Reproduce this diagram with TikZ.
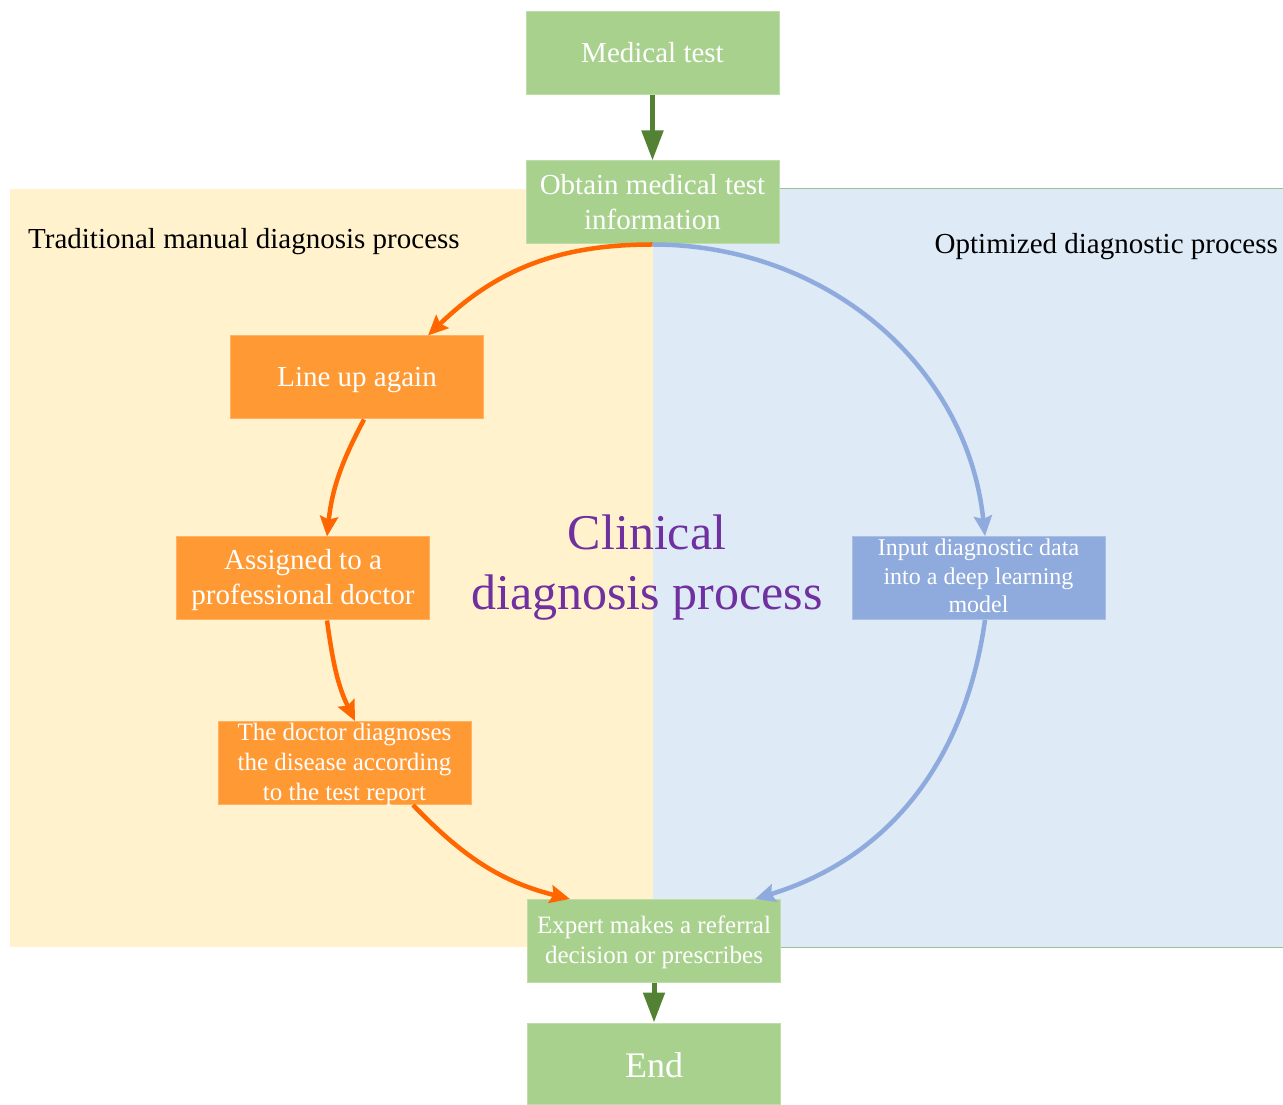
\documentclass[tikz,border=0pt]{standalone}
\usepackage{fontspec}
\setmainfont{Liberation Serif}
\usetikzlibrary{arrows.meta}
\definecolor{boxgreen}{HTML}{A9D18E}
\definecolor{boxorange}{HTML}{FF9933}
\definecolor{boxblue}{HTML}{8FAADC}
\definecolor{bgyellow}{HTML}{FFF2CC}
\definecolor{bgblue}{HTML}{DEEAF6}
\definecolor{arrgreen}{HTML}{548235}
\definecolor{arrorange}{HTML}{FF6600}
\definecolor{titlepurple}{HTML}{7030A0}
\definecolor{panelline}{HTML}{A3BB98}
\newcommand\boxtext[2][-0.3em]{\raisebox{#1}[0pt][0pt]{\begin{tabular}{@{}c@{}}#2\end{tabular}}}
\begin{document}
\begin{tikzpicture}[x=1pt,y=1pt,
  box/.style={rectangle, inner sep=0pt, text=white, minimum width=253pt, minimum height=83pt, line width=1pt},
  gbox/.style={box, fill=boxgreen, draw=boxgreen!75!white},
  obox/.style={box, fill=boxorange, draw=boxorange!75!white},
  bbox/.style={box, fill=boxblue, draw=boxblue!75!white},
  bigtxt/.style={font=\fontsize{29}{34.5}\selectfont},
  smalltxt/.style={font=\fontsize{25}{30}\selectfont},
  orarrow/.style={draw=arrorange, line width=4.5pt, -{Stealth[length=20pt,width=18pt,inset=3pt]}},
  blarrow/.style={draw=boxblue, line width=4.5pt, -{Stealth[length=20pt,width=18pt,inset=3pt]}},
  grarrow/.style={draw=arrgreen, line width=5pt, -{Triangle[length=30pt,width=21pt]}},
  paneltitle/.style={font=\fontsize{29}{35}\selectfont, text=black, inner sep=0pt}
]
\useasboundingbox (0,0) rectangle (1283,1104);
% background panels
\fill[bgyellow] (10,157) rectangle (653,915);
\fill[bgblue] (653,157) rectangle (1283,915);
\draw[panelline, line width=1pt] (653,915) -- (1283,915);
\draw[panelline, line width=1pt] (653,157) -- (1283,157);
% panel titles
\node[paneltitle, anchor=base west] (tradtitle) at (28,855) {Traditional manual diagnosis process};
\node[paneltitle, anchor=base east] (opttitle) at (1278,850) {Optimized diagnostic process};
% centre title
\node[font=\fontsize{50}{60}\selectfont, text=titlepurple, align=center] (clin) at (647,536) {Clinical\\diagnosis process};
% nodes
\node[gbox, bigtxt] (med) at (652.5,1050.5) {\boxtext{Medical test}};
\node[gbox, bigtxt] (obt) at (652.5,901.5) {\boxtext{Obtain medical test\\information}};
\node[obox, bigtxt] (line) at (357,726.5) {\boxtext{Line up again}};
\node[obox, font=\fontsize{29}{35}\selectfont] (assg) at (303,525.5) {\boxtext[-7.5pt]{Assigned to a\\professional doctor}};
\node[obox, smalltxt] (doc) at (344.5,341) {\boxtext[-8pt]{The doctor diagnoses\\the disease according\\to the test report}};
\node[bbox, font=\fontsize{24}{28.5}\selectfont] (inp) at (978.5,526) {\boxtext[-7pt]{Input diagnostic data\\into a deep learning\\model}};
\node[gbox, smalltxt] (exp) at (654,163) {\boxtext[-7.5pt]{Expert makes a referral\\decision or prescribes}};
\node[gbox, font=\fontsize{36}{43}\selectfont, minimum height=81pt] (end) at (654,40.5) {\boxtext[-12pt]{End}};
% connectors
\draw[grarrow] (med.south) -- (obt.north);
\draw[grarrow] (exp.south) -- (end.north);
\draw[orarrow] (obt.south) to[out=180, in=44] ([xshift=71pt]line.north);
\draw[orarrow] ([xshift=7pt]line.south) to[out=242, in=84] ([xshift=24pt]assg.north);
\draw[orarrow] ([xshift=24pt]assg.south) to[out=278, in=116] ([xshift=10.5pt]doc.north);
\draw[orarrow] ([xshift=68.5pt]doc.south) to[out=314, in=166] ([xshift=-84pt]exp.north);
\draw[blarrow] (obt.south) to[out=0, in=96] ([xshift=6.5pt]inp.north);
\draw[blarrow] ([xshift=6.5pt]inp.south) to[out=-98, in=17] ([xshift=101pt]exp.north);
\end{tikzpicture}
\end{document}
